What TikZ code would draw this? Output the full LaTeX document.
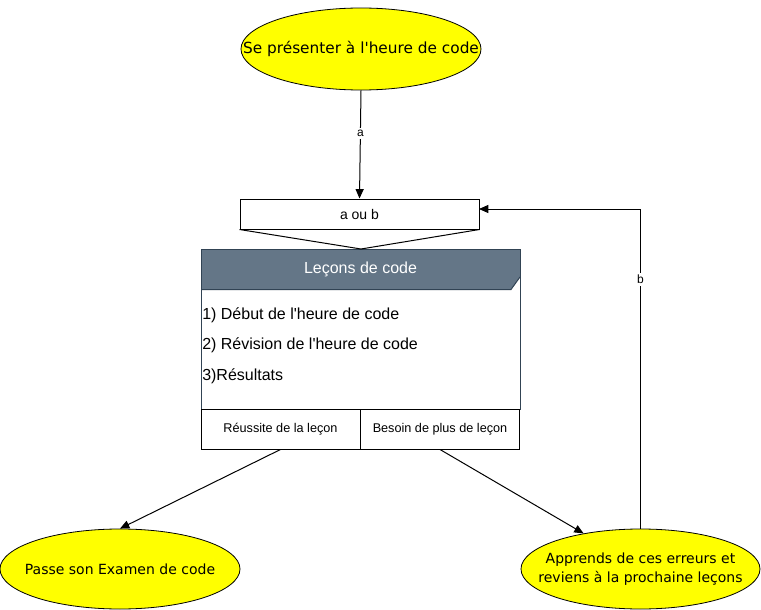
\documentclass[tikz,border=0pt]{standalone}
\usepackage{fontspec}
\setmainfont{Liberation Sans}[Ligatures=TeXOff]
\newfontfamily\comicfont{DejaVu Sans}[Ligatures=TeXOff]
\usetikzlibrary{arrows.meta,shapes.geometric}
\definecolor{hdrfill}{HTML}{647687}
\definecolor{hdrline}{HTML}{314354}
\definecolor{ellfill}{HTML}{FFFF00}
\begin{document}
\begin{tikzpicture}[x=0.75pt,y=-0.75pt,
  ell/.style={ellipse,draw=black,fill=ellfill,inner sep=0pt,line width=0.6pt},
  elltxt/.style={inner sep=0pt,align=center,font=\comicfont\fontsize{10.5}{14}\selectfont},
  conn/.style={draw=black,line width=0.75pt,-{Triangle[width=6pt,length=7pt]}},
  cell/.style={draw=black,line width=0.75pt,minimum width=119.25pt,minimum height=30pt,inner sep=0pt,font=\fontsize{9.5}{11}\selectfont},
  bodytxt/.style={anchor=west,inner sep=0pt,font=\fontsize{12}{14}\selectfont},
  lbl/.style={fill=white,inner sep=1.5pt,font=\fontsize{9}{10}\selectfont}
]
\useasboundingbox (0,0) rectangle (761,610);
\fill[white] (0,0) rectangle (761,610);

% top ellipse
\node[ell,minimum width=180pt,minimum height=61.5pt] (start) at (361,49) {};
\node[elltxt,font=\comicfont\fontsize{11.5}{14}\selectfont] (starttxt) at (start) {Se présenter à l'heure de code};

% a ou b
\node[draw=black,line width=0.75pt,minimum width=179.25pt,minimum height=22.5pt,inner sep=0pt,font=\fontsize{10.5}{12}\selectfont] (ab) at (359.5,214) {a ou b};
\coordinate (vtip) at (361,249);

% Lecons box
\draw[hdrline,line width=0.75pt,fill=white] (201,249) rectangle (520,409);
\fill[hdrfill] (201,249) -- (520,249) -- (520,277) -- (511,289.5) -- (201,289.5) -- cycle;
\draw[hdrline,line width=0.75pt] (201,289.5) -- (511,289.5) -- (520,277);
\draw[hdrline,line width=0.75pt] (201,249) rectangle (520,409);
\node[text=white,font=\fontsize{12}{14}\selectfont] (lecons) at (360.5,269) {Leçons de code};
\draw[black,line width=0.75pt] (ab.south west) -- (vtip) -- (ab.south east);

\node[bodytxt] (l1) at (202,315.5) {1) Début de l'heure de code};
\node[bodytxt] (l2) at (202,345.5) {2) Révision de l'heure de code};
\node[bodytxt] (l3) at (202,376.5) {3)Résultats};

\node[cell] (c1) at (280.5,429) {Réussite de la leçon};
\node[cell] (c2) at (440,429) {Besoin de plus de leçon};

% bottom ellipses
\node[ell,minimum width=180pt,minimum height=60pt] (pass) at (120,569) {};
\node[elltxt] (passtxt) at (pass) {Passe son Examen de code};
\node[ell,minimum width=179.25pt,minimum height=60pt] (retry) at (640.5,569) {};
\node[elltxt] (retrytxt) at (retry) {Apprends de ces erreurs et\\reviens à la prochaine leçons};

% connectors
\draw[conn] (start.south) -- node[lbl,pos=0.4] {a} (ab.north);
\draw[conn] (c1.south) -- (pass.north);
\draw[conn] (c2.south) -- (retry.148);
\coordinate (fbin) at (479,209);
\draw[conn] (retry.north) -- node[lbl,pos=0.78] {b} (retry.north |- fbin) -- (fbin);
\end{tikzpicture}
\end{document}
